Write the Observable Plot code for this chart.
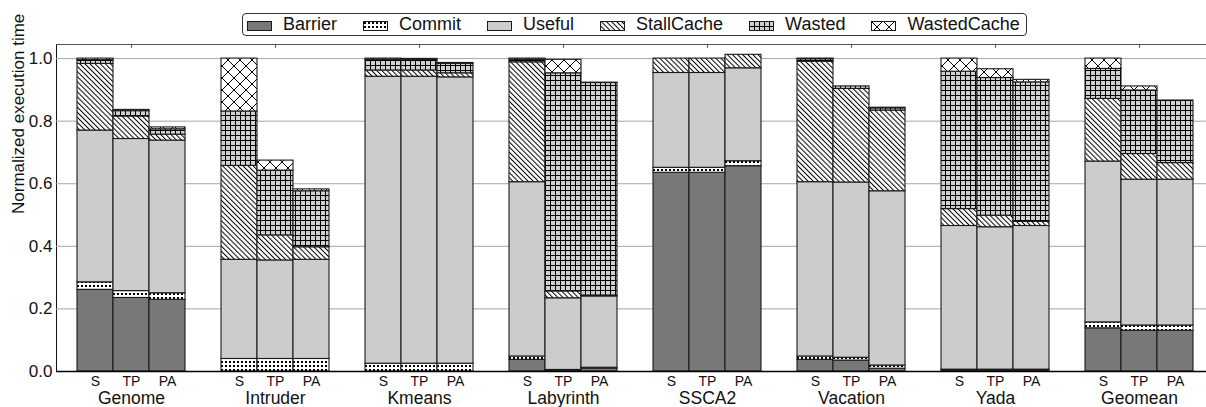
<!DOCTYPE html>
<html>
<head>
<meta charset="utf-8">
<script src="https://cdn.jsdelivr.net/npm/d3@7"></script>
<script src="https://cdn.jsdelivr.net/npm/@observablehq/plot@0.6"></script>
<style>
  html, body { margin: 0; padding: 0; background: #fff; }
  body { font-family: "Liberation Sans", Arial, Helvetica, sans-serif; }
  #wrap { position: relative; width: 1206px; height: 407px; overflow: hidden; }
  #legend {
    position: absolute; left: 242px; top: 13px; width: 785px; height: 23px;
    box-sizing: border-box; border: 1px solid #333; border-radius: 4px;
    display: flex; align-items: center; padding-left: 4px; gap: 26px;
    font-size: 18px; color: #111; background: #fff;
  }
  #legend .item { display: flex; align-items: center; white-space: nowrap; }
  #legend svg { margin-right: 11px; margin-top: 3px; display: block; }
  #chart g[aria-label="y-axis"] text,
  #chart g[aria-label="y-axis tick label"] text { font-size: 17px; }
</style>
</head>
<body>
<svg width="0" height="0" style="position:absolute">
  <defs>
    <pattern id="pCommit" patternUnits="userSpaceOnUse" width="4" height="4">
      <rect width="4" height="4" fill="#fff"/>
      <rect x="1" y="1" width="2" height="2" fill="#000"/>
    </pattern>
    <pattern id="pStall" patternUnits="userSpaceOnUse" width="3.6" height="3.6" patternTransform="rotate(-45)">
      <rect width="3.6" height="3.6" fill="#fff"/>
      <line x1="0.5" y1="0" x2="0.5" y2="3.6" stroke="#000" stroke-width="1"/>
    </pattern>
    <pattern id="pWasted" patternUnits="userSpaceOnUse" width="5" height="5">
      <rect width="5" height="5" fill="#cfcfcf"/>
      <line x1="0.5" y1="0" x2="0.5" y2="5" stroke="#000" stroke-width="1"/>
      <line x1="0" y1="0.5" x2="5" y2="0.5" stroke="#000" stroke-width="1"/>
    </pattern>
    <pattern id="pWC" patternUnits="userSpaceOnUse" width="12" height="12">
      <rect width="12" height="12" fill="#fff"/>
      <line x1="0" y1="0" x2="12" y2="12" stroke="#000" stroke-width="1"/>
      <line x1="12" y1="0" x2="0" y2="12" stroke="#000" stroke-width="1"/>
    </pattern>
  </defs>
</svg>
<div id="wrap">
  <div id="chart"></div>
  <div id="legend"></div>
</div>
<script>
// ---- data ----
const benchmarks = ["Genome", "Intruder", "Kmeans", "Labyrinth", "SSCA2", "Vacation", "Yada", "Geomean"];
const configs = ["S", "TP", "PA"];
const series = ["Barrier", "Commit", "Useful", "StallCache", "Wasted", "WastedCache"];
const yTicks = [0, 0.2, 0.4, 0.6, 0.8, 1.0];

// values per (benchmark, config): benchmark-major, config-minor (S, TP, PA)
const barrier = [0.261, 0.235, 0.229, 0, 0, 0, 0, 0, 0, 0.037, 0.003, 0.009, 0.635, 0.635, 0.656, 0.037, 0.035, 0.009, 0.003, 0.003, 0.003, 0.138, 0.130, 0.130];
const commit = [0.024, 0.022, 0.021, 0.040, 0.040, 0.040, 0.025, 0.025, 0.025, 0.011, 0.002, 0.003, 0.016, 0.016, 0.016, 0.011, 0.009, 0.010, 0.003, 0.003, 0.003, 0.019, 0.017, 0.017];
const useful = [0.485, 0.486, 0.488, 0.317, 0.315, 0.317, 0.917, 0.917, 0.915, 0.557, 0.229, 0.228, 0.303, 0.303, 0.297, 0.557, 0.560, 0.557, 0.459, 0.455, 0.459, 0.514, 0.466, 0.466];
const stallCache = [0.213, 0.072, 0.019, 0.300, 0.080, 0.040, 0.020, 0.020, 0.013, 0.383, 0.022, 0.003, 0.046, 0.046, 0.043, 0.385, 0.299, 0.258, 0.054, 0.037, 0.013, 0.200, 0.082, 0.053];
const wasted = [0.012, 0.017, 0.017, 0.174, 0.207, 0.179, 0.034, 0.034, 0.030, 0.008, 0.697, 0.679, 0, 0, 0, 0.008, 0.008, 0.007, 0.439, 0.440, 0.446, 0.096, 0.203, 0.200];
const wastedCache = [0.005, 0.004, 0.006, 0.169, 0.032, 0.006, 0.004, 0.003, 0.003, 0.004, 0.043, 0.001, 0, 0, 0, 0.002, 0, 0.002, 0.042, 0.028, 0.008, 0.033, 0.013, 0];

// ---- build table ----
const seriesValues = [barrier, commit, useful, stallCache, wasted, wastedCache];
const fills = ["#787878", "url(#pCommit)", "#cccccc", "url(#pStall)", "url(#pWasted)", "url(#pWC)"];
const keyOf = (b, c) => b + "|" + c;

const data = [];
const bars = [];
benchmarks.forEach((b, i) => configs.forEach((c, j) => {
  const k = i * configs.length + j;
  bars.push({bench: b, config: c, key: keyOf(b, c)});
  seriesValues.forEach((vals, s) => {
    if (vals[k] > 0) data.push({bench: b, config: c, key: keyOf(b, c), series: series[s], value: vals[k]});
  });
}));

// band slots: three bars per benchmark with a spacer slot between groups
const slots = [];
benchmarks.forEach((b, i) => {
  configs.forEach(c => slots.push(keyOf(b, c)));
  if (i < benchmarks.length - 1) slots.push("gap" + i);
});
const yTop = 1.045;

const chart = Plot.plot({
  width: 1206,
  height: 407,
  marginTop: 44,
  marginBottom: 36,
  marginLeft: 56,
  marginRight: 0,
  style: {fontFamily: '"Liberation Sans", Arial, Helvetica, sans-serif', fontSize: "17px", color: "#111", background: "white"},
  x: {type: "band", domain: slots, range: [56, 1214], paddingInner: 0, paddingOuter: 0.5, axis: null},
  y: {domain: [0, yTop], ticks: yTicks, tickFormat: d3.format(".1f"), tickSize: 0, tickPadding: 4, label: null, line: true},
  color: {type: "ordinal", domain: series, range: fills},
  marks: [
    Plot.ruleY(yTicks.filter(d => d > 0), {stroke: "#a5a5a5", strokeWidth: 1}),
    Plot.ruleY([yTop], {stroke: "#555", strokeWidth: 1}),
    Plot.ruleX(benchmarks, {x: b => keyOf(b, "TP"), y1: yTop, y2: yTop - 0.012, stroke: "#555"}),
    Plot.barY(data, Plot.stackY({x: "key", y: "value", fill: "series", order: series, stroke: "#1a1a1a", strokeWidth: 1.1})),
    Plot.ruleY([0], {stroke: "#000", strokeWidth: 1.3}),
    Plot.text(bars, {x: "key", y: () => 0, text: "config", dy: 10, fontSize: 14}),
    Plot.text(benchmarks, {x: b => keyOf(b, "TP"), y: () => 0, text: b => b, dy: 27, fontSize: 17.5}),
    Plot.text(["Normalized execution time"], {frameAnchor: "left", text: d => d, rotate: -90, dx: -38, dy: 6, fontSize: 17})
  ]
});
document.getElementById("chart").appendChild(chart);

// ---- legend ----
const legend = d3.select("#legend");
series.forEach((s, i) => {
  const item = legend.append("div").attr("class", "item");
  const sw = item.append("svg").attr("width", 25).attr("height", 10);
  sw.append("rect").attr("x", 0.5).attr("y", 0.5).attr("width", 24).attr("height", 9)
    .attr("fill", fills[i]).attr("stroke", "#1a1a1a").attr("stroke-width", 1);
  item.append("span").text(s);
});
</script>
</body>
</html>
